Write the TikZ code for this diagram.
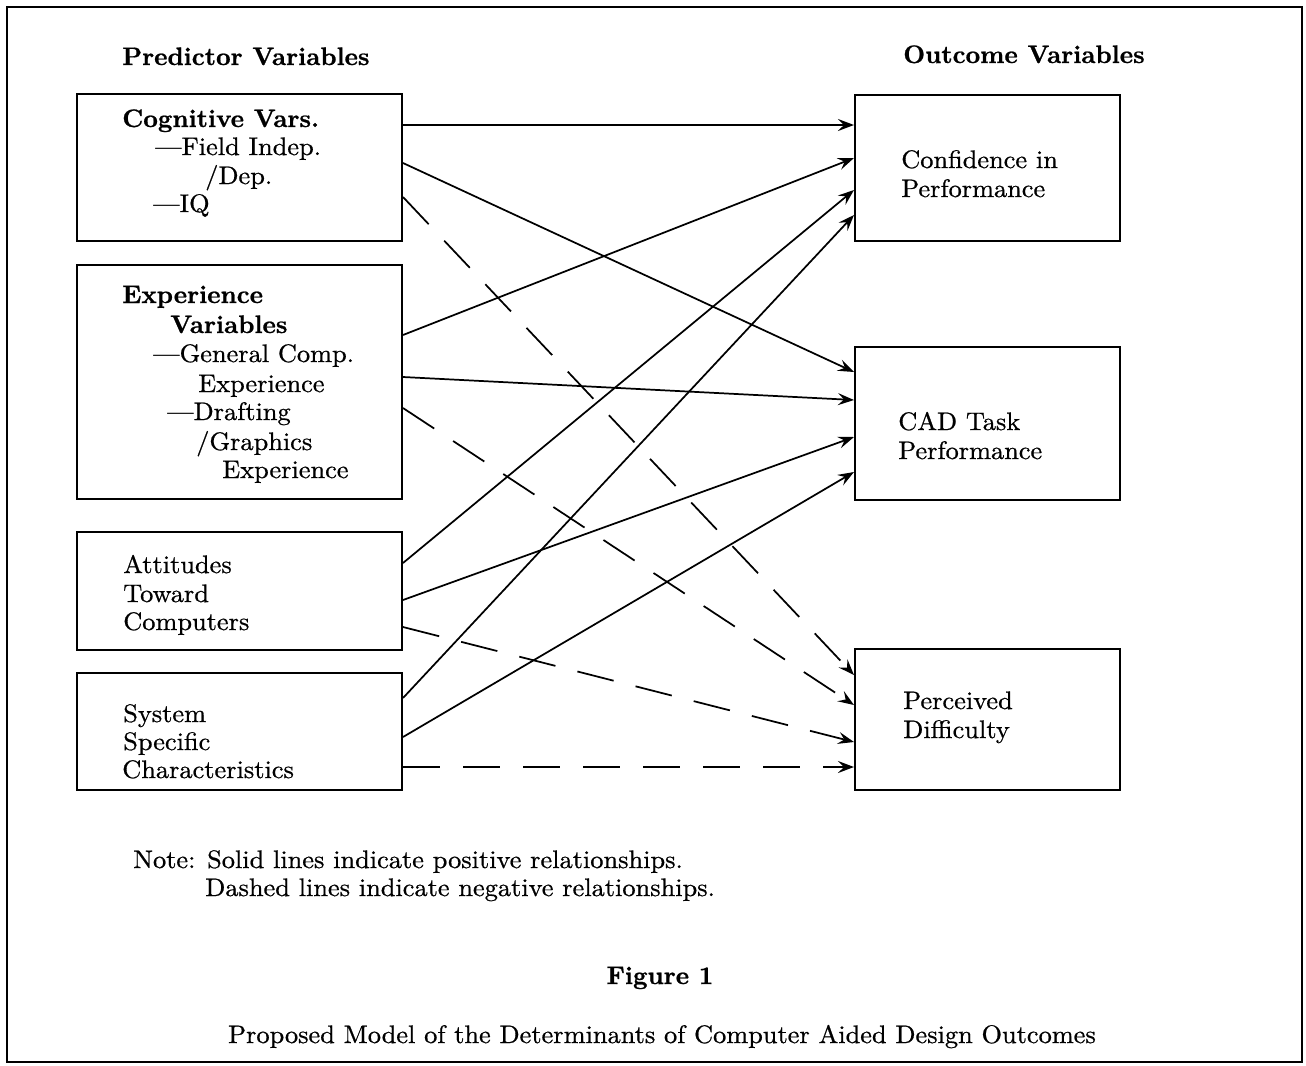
\documentclass[tikz,border=0pt]{standalone}
\usepackage{fontspec}
\newfontfamily\regfont{lmroman10-regular}[Extension=.otf,FakeStretch=1.04,FakeBold=0.7,Ligatures=TeX]
\newfontfamily\bldfont{lmroman10-bold}[Extension=.otf,FakeBold=0.8,Ligatures=TeX]
\usetikzlibrary{arrows.meta,fit}
\begin{document}
\begin{tikzpicture}[x=0.75pt,y=-0.75pt,
  box/.style={draw,line width=1.5pt,inner sep=0pt,rectangle},
  posarrow/.style={line width=1.3pt,-{Stealth[length=12pt,width=9pt,inset=4.5pt]}},
  negarrow/.style={posarrow,dash pattern=on 28pt off 17pt},
  lbl/.style={anchor=base west,inner sep=0pt,font=\fontsize{19}{23}\regfont},
  blbl/.style={anchor=base west,inner sep=0pt,font=\fontsize{19}{23}\bldfont},
  clbl/.style={anchor=base,inner sep=0pt,font=\fontsize{19}{23}\regfont}]
\useasboundingbox (0,0) rectangle (1306,1065);
\node[box,fit={(7,7)(1302,1062)}] (frame) {};
% boxes
\node[box,fit={(77,94)(402,241)}] (cog) {};
\node[box,fit={(77,265)(402,499)}] (exp) {};
\node[box,fit={(77,532)(402,650)}] (att) {};
\node[box,fit={(77,673)(402,790)}] (sys) {};
\node[box,fit={(855,95)(1120,241)}] (conf) {};
\node[box,fit={(855,347)(1120,500)}] (cad) {};
\node[box,fit={(855,649)(1120,790)}] (perc) {};
% headers
\node[blbl] (h1) at (122,65) {Predictor Variables};
\node[blbl] (h2) at (903,63) {Outcome Variables};
% cognitive
\node[blbl] (c1) at (122,127) {Cognitive Vars.};
\node[lbl] (c2) at (155,155) {\textemdash Field Indep.};
\node[lbl] (c3) at (205,184) {/Dep.};
\node[lbl] (c4) at (153,212) {\textemdash IQ};
% experience
\node[blbl] (e1) at (122,303) {Experience};
\node[blbl] (e2) at (170,333) {Variables};
\node[lbl] (e3) at (153,362) {\textemdash General Comp.};
\node[lbl] (e4) at (198,392) {Experience};
\node[lbl] (e5) at (167,420) {\textemdash Drafting};
\node[lbl] (e6) at (196,450) {/Graphics};
\node[lbl] (e7) at (222,478) {Experience};
% attitudes
\node[lbl] (a1) at (123,573) {Attitudes};
\node[lbl] (a2) at (123,602) {Toward};
\node[lbl] (a3) at (123,630) {Computers};
% system
\node[lbl] (s1) at (123,722) {System};
\node[lbl] (s2) at (123,750) {Specific};
\node[lbl] (s3) at (122,778) {Characteristics};
% outcomes
\node[lbl] (o1) at (901,168) {Confidence in};
\node[lbl] (o2) at (901,197) {Performance};
\node[lbl] (o3) at (898,430) {CAD Task};
\node[lbl] (o4) at (898,459) {Performance};
\node[lbl] (o5) at (903,709) {Perceived};
\node[lbl] (o6) at (903,738) {Difficulty};
% note & caption
\node[lbl] (n1) at (133,868) {Note: Solid lines indicate positive relationships.};
\node[lbl] (n2) at (205,896) {Dashed lines indicate negative relationships.};
\node[anchor=base,inner sep=0pt,font=\fontsize{19}{23}\bldfont] (fig) at (660,984) {Figure 1};
\node[clbl] (cap) at (662,1043) {Proposed Model of the Determinants of Computer Aided Design Outcomes};
% connectors
\draw[posarrow] (cog.east |- 0,125) -- (conf.west |- 0,125);
\draw[posarrow] (cog.east |- 0,163) -- (cad.west |- 0,372);
\draw[negarrow] (cog.east |- 0,197) -- (perc.west |- 0,675);
\draw[posarrow] (exp.east |- 0,335) -- (conf.west |- 0,158);
\draw[posarrow] (exp.east |- 0,377) -- (cad.west |- 0,400);
\draw[negarrow] (exp.east |- 0,408) -- (perc.west |- 0,705);
\draw[posarrow] (att.east |- 0,563) -- (conf.west |- 0,190);
\draw[posarrow] (att.east |- 0,600) -- (cad.west |- 0,437);
\draw[negarrow] (att.east |- 0,627) -- (perc.west |- 0,742);
\draw[posarrow] (sys.east |- 0,698) -- (conf.west |- 0,215);
\draw[posarrow] (sys.east |- 0,737) -- (cad.west |- 0,472);
\draw[negarrow] (sys.east |- 0,767) -- (perc.west |- 0,767);
\end{tikzpicture}
\end{document}
